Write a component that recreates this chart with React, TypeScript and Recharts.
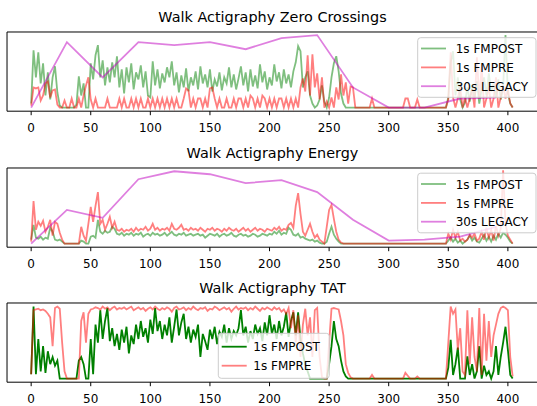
import { Line, LineChart, ReferenceArea, XAxis, YAxis } from "recharts"

const FONT = "DejaVu Sans, Verdana, sans-serif"

// x positions (seconds) — 1 s series sampled every 2 s, legacy every 30 s
const seconds = Array.from({ length: 203 }, (_, i) => i * 2)
const legacySeconds = [0, 30, 60, 90, 120, 150, 180, 210, 240, 270, 300, 330, 360, 390]
const xTicks = [0, 50, 100, 150, 200, 250, 300, 350, 400]

const titles = [
  "Walk Actigraphy Zero Crossings",
  "Walk Actigraphy Energy",
  "Walk Actigraphy TAT",
]

// zero crossings
const zcPost = [
  4, 57, 30, 55, 24, 44, 12, 35, 8, 30,
  41, 15, 2, 0, 0, 0, 0, 0, 0, 3,
  31, 12, 24, 0, 0, 44, 28, 52, 62, 30,
  47, 22, 40, 25, 45, 30, 51, 20, 38, 14,
  40, 25, 44, 18, 35, 28, 42, 20, 36, 12,
  10, 46, 22, 38, 19, 34, 25, 40, 30, 46,
  22, 35, 15, 32, 20, 39, 16, 30, 22, 36,
  18, 41, 24, 33, 20, 38, 16, 28, 21, 35,
  17, 30, 24, 40, 20, 33, 18, 29, 41, 22,
  35, 16, 38, 21, 32, 19, 43, 25, 36, 18,
  30, 22, 43, 26, 35, 19, 38, 24, 33, 20,
  36, 45, 61, 56, 20, 30, 36, 12, 4, 0,
  2, 8, 22, 6, 0, 10, 30, 44, 51, 36,
  14, 4, 0, 0, 0, 0, 0, 0, 0, 0,
  0, 0, 0, 0, 0, 0, 0, 0, 0, 0,
  0, 0, 0, 0, 0, 0, 0, 0, 0, 0,
  0, 0, 0, 0, 0, 0, 0, 0, 0, 0,
  0, 0, 0, 0, 0, 10, 45, 56, 12, 30,
  8, 0, 5, 20, 6, 22, 10, 26, 4, 18,
  30, 12, 34, 16, 24, 10, 28, 8, 20, 72,
  14, 4, 0,
]
const zcPre = [
  2, 20, 19, 20, 7, 12, 24, 26, 10, 17,
  18, 3, 0, 0, 7, 0, 0, 9, 0, 0,
  9, 0, 12, 22, 30, 8, 0, 9, 0, 0,
  0, 0, 9, 0, 0, 0, 0, 9, 0, 9,
  0, 0, 9, 0, 9, 0, 9, 0, 0, 9,
  0, 9, 0, 9, 0, 9, 0, 9, 0, 9,
  0, 9, 0, 0, 9, 19, 17, 0, 9, 0,
  9, 9, 0, 9, 0, 19, 20, 9, 0, 9,
  0, 0, 9, 0, 0, 9, 0, 9, 9, 0,
  9, 0, 12, 9, 0, 9, 0, 12, 9, 0,
  9, 0, 9, 0, 9, 9, 0, 9, 0, 9,
  0, 9, 0, 20, 29, 16, 52, 12, 53, 20,
  34, 8, 30, 0, 6, 0, 10, 0, 20, 8,
  33, 12, 25, 4, 21, 20, 0, 0, 0, 0,
  0, 0, 0, 9, 0, 0, 0, 0, 0, 0,
  0, 0, 0, 0, 0, 0, 0, 9, 9, 0,
  0, 0, 8, 0, 0, 0, 0, 0, 0, 0,
  0, 0, 0, 0, 0, 8, 55, 10, 0, 9,
  20, 0, 10, 0, 9, 18, 0, 50, 9, 40,
  0, 9, 20, 0, 9, 30, 0, 10, 22, 9,
  18, 4, 0,
]
const zcLegacy = [0, 65, 30, 65, 62, 65, 58, 69, 72, 20, 0, 0, 9, 10]

// energy
const enPost = [
  4, 19, 6, 5, 7, 4, 6, 5, 16, 12,
  4, 3, 4, 2, 0, 0, 0, 0, 0, 0,
  0, 3, 2, 0, 0, 7, 8, 6, 24, 12,
  10, 13, 11, 12, 17, 15, 10, 9, 11, 8,
  10, 9, 11, 8, 10, 9, 11, 7, 9, 10,
  8, 11, 9, 10, 8, 9, 11, 8, 10, 12,
  9, 8, 10, 9, 11, 8, 9, 10, 8, 9,
  10, 8, 9, 6, 8, 10, 9, 8, 10, 7,
  9, 10, 8, 9, 11, 8, 7, 9, 10, 8,
  9, 7, 8, 10, 9, 7, 8, 10, 9, 8,
  10, 9, 12, 10, 13, 9, 11, 10, 16, 14,
  9, 8, 10, 6, 7, 5, 4, 3, 4, 2,
  3, 1, 0, 0, 2, 10, 17, 9, 5, 2,
  0, 0, 0, 0, 0, 0, 0, 0, 0, 0,
  0, 0, 0, 0, 0, 0, 0, 0, 0, 0,
  0, 0, 0, 0, 0, 0, 0, 0, 0, 0,
  0, 0, 0, 0, 0, 0, 0, 0, 0, 0,
  0, 0, 0, 0, 0, 3, 6, 2, 5, 1,
  3, 0, 2, 4, 8, 3, 6, 2, 1, 5,
  9, 3, 7, 2, 8, 4, 10, 6, 11, 9,
  6, 2, 0,
]
const enPre = [
  2, 43, 14, 22, 18, 23, 12, 17, 24, 8,
  22, 20, 11, 4, 0, 0, 0, 0, 0, 0,
  0, 17, 8, 3, 20, 37, 22, 38, 52, 20,
  24, 14, 20, 27, 16, 22, 14, 13, 15, 12,
  14, 13, 15, 12, 16, 13, 15, 14, 17, 13,
  15, 20, 14, 16, 13, 15, 14, 16, 13, 20,
  15, 14, 16, 19, 14, 15, 13, 16, 14, 15,
  13, 16, 14, 12, 15, 14, 16, 13, 15, 14,
  12, 15, 13, 16, 14, 13, 15, 12, 14, 16,
  13, 15, 12, 14, 16, 13, 15, 14, 12, 15,
  14, 13, 16, 14, 17, 13, 15, 14, 19, 21,
  16, 38, 51, 30, 12, 8, 14, 20, 12, 6,
  9, 4, 2, 0, 17, 34, 39, 25, 12, 4,
  1, 0, 0, 0, 0, 0, 0, 0, 0, 0,
  0, 0, 0, 0, 0, 0, 0, 0, 0, 0,
  0, 0, 0, 0, 0, 0, 0, 0, 0, 0,
  0, 0, 0, 0, 0, 0, 0, 0, 0, 0,
  0, 0, 0, 0, 0, 10, 4, 14, 6, 12,
  3, 5, 2, 4, 9, 6, 10, 3, 5, 12,
  4, 16, 6, 14, 3, 18, 8, 15, 74, 20,
  8, 4, 0,
]
const enLegacy = [0, 34, 26, 65, 73, 70, 61, 64, 52, 24, 3, 4, 7, 17]

// time above threshold
const tatPost = [
  0.06, 1.0, 0.06, 0.55, 0.1, 0.45, 0.08, 0.38, 0.2, 0.3,
  0.18, 0.25, 0, 0, 0, 0, 0, 0, 0, 0,
  0.25, 0.3, 0.2, 0, 0, 0.55, 0.06, 0.75, 0.5, 0.95,
  0.55, 0.8, 0.98, 0.52, 0.7, 0.45, 0.62, 0.4, 0.68, 0.5,
  0.72, 0.35, 0.6, 0.48, 0.75, 0.55, 0.8, 0.58, 0.7, 0.5,
  0.82, 0.62, 0.98, 0.66, 0.8, 0.55, 0.75, 0.6, 0.85, 0.5,
  0.72, 0.96, 0.6, 0.78, 0.9, 0.55, 0.72, 0.5, 0.68, 0.58,
  0.75, 0.3, 0.62, 0.52, 0.4, 0.68, 0.55, 0.72, 0.48, 0.65,
  0.58, 0.75, 0.5, 0.7, 0.55, 0.66, 0.6, 0.7, 0.95, 0.6,
  0.72, 0.5, 0.66, 0.55, 0.75, 0.62, 0.7, 0.52, 0.78, 0.6,
  0.88, 0.62, 0.75, 0.55, 0.8, 0.6, 0.72, 0.92, 0.58, 0.8,
  0.92, 0.6, 0.92, 0.55, 0.35, 0.2, 0.1, 0, 0, 0,
  0, 0, 0, 0, 0, 0.2, 0.45, 0.8, 0.55, 0.45,
  0.25, 0.1, 0.03, 0, 0, 0, 0, 0, 0, 0,
  0, 0, 0, 0, 0, 0, 0, 0, 0, 0,
  0, 0, 0, 0, 0, 0, 0, 0, 0, 0,
  0, 0, 0, 0, 0, 0, 0, 0, 0, 0,
  0, 0, 0, 0, 0, 0.15, 0.54, 0.05, 0.2, 0.43,
  0, 0, 0, 0.31, 0.05, 0.2, 0, 0.1, 0.45, 0,
  0.18, 0.05, 0.1, 0, 0.1, 0.45, 0.05, 0.3, 0.5, 0.72,
  0.4, 0.05, 0,
]
const tatPre = [
  0.06, 0.95, 0.96, 0.97, 0.95, 0.96, 0.94, 0.9, 0.85, 0.45,
  0.98, 1.0, 0.97, 0.5, 0.1, 0, 0, 0, 0, 0,
  0, 0.8, 0.92, 0.5, 0.9, 0.96, 0.97, 0.99, 0.98, 0.96,
  1.0, 0.97, 0.99, 0.95, 0.98, 1.0, 0.96, 0.98, 0.97, 0.99,
  0.96, 0.98, 1.0, 0.95, 0.97, 0.99, 0.96, 0.98, 0.94, 0.97,
  0.99, 0.96, 1.0, 0.97, 0.95, 0.98, 0.96, 0.99, 0.97, 0.93,
  0.98, 1.0, 0.96, 0.97, 0.99, 0.95, 0.98, 0.96, 1.0, 0.97,
  0.95, 0.98, 0.97, 0.99, 0.94, 0.97, 0.96, 1.0, 0.98, 0.95,
  0.97, 0.99, 0.96, 0.98, 0.93, 0.97, 1.0, 0.96, 0.98, 0.97,
  0.99, 0.95, 0.98, 0.96, 1.0, 0.97, 0.94, 0.98, 0.96, 0.99,
  0.97, 0.95, 0.99, 0.96, 0.98, 0.93, 0.96, 0.9, 0.98, 0.7,
  0.95, 0.5, 0.88, 0.3, 0.75, 0.97, 0.6, 0.85, 0.3, 0.95,
  0.98, 0.3, 0.02, 0, 0, 0.5, 0.97, 0.98, 0.97, 0.96,
  0.8, 0.6, 0.2, 0.08, 0.02, 0, 0, 0, 0, 0,
  0, 0, 0, 0.05, 0, 0, 0, 0, 0, 0,
  0, 0, 0, 0, 0, 0, 0, 0.08, 0.04, 0,
  0, 0, 0.03, 0, 0, 0, 0, 0, 0, 0,
  0, 0, 0, 0, 0, 0.5, 1.0, 0.9, 0.96, 0.4,
  0.7, 0.1, 0.05, 0.95, 0.2, 0.85, 0.3, 0.1, 0.98, 0.05,
  0.9, 0.25, 0.8, 0.3, 0.6, 0.75, 0.9, 0.98, 1.0, 0.98,
  0.95, 0.3, 0.03,
]

const GREEN = "#008000"
const RED = "#ff0000"
const MAGENTA = "#bf00bf"

const PLOT_LEFT = 7
const PLOT_H = 79.2
const CHART_W = 540
const TOP_PAD = 40
const AXIS_H = 30
const X_DOMAIN: [number, number] = [-20.25, 425.25]
const PLOT_TOPS = [32.3, 167.8, 303.3]

type Series = { label: string; color: string; opacity: number }

function Panel({
  top,
  yDomain,
  post,
  pre,
  legacy,
  postOpacity,
}: {
  top: number
  yDomain: [number, number]
  post: number[]
  pre: number[]
  legacy?: number[]
  postOpacity: number
}) {
  const rows = seconds.map((t, i) => ({ t, post: post[i], pre: pre[i] }))
  const legacyRows = legacy ? legacySeconds.map((t, i) => ({ t, v: legacy[i] })) : []
  const h = TOP_PAD + PLOT_H + AXIS_H
  return (
    <div
      style={{
        position: "absolute",
        left: 0,
        top: top - TOP_PAD,
        width: 537,
        height: h,
        overflow: "hidden",
      }}
    >
      <LineChart
        width={CHART_W}
        height={h}
        data={rows}
        margin={{ top: TOP_PAD, right: 2, bottom: 0, left: PLOT_LEFT }}
      >
        <XAxis
          dataKey="t"
          type="number"
          domain={X_DOMAIN}
          ticks={xTicks}
          allowDataOverflow
          axisLine={false}
          tickLine={{ stroke: "#000", strokeWidth: 1 }}
          tickSize={4}
          tickMargin={8.7}
          height={AXIS_H}
          tick={{ fontSize: 12, fill: "#000", fontFamily: FONT }}
          interval={0}
        />
        <YAxis hide domain={yDomain} allowDataOverflow type="number" />
        <Line
          dataKey="post"
          stroke={GREEN}
          strokeOpacity={postOpacity}
          strokeWidth={1.8}
          dot={false}
          isAnimationActive={false}
        />
        <Line
          dataKey="pre"
          stroke={RED}
          strokeOpacity={0.5}
          strokeWidth={1.8}
          dot={false}
          isAnimationActive={false}
        />
        {legacy && (
          <Line
            data={legacyRows}
            dataKey="v"
            stroke={MAGENTA}
            strokeOpacity={0.5}
            strokeWidth={1.8}
            dot={false}
            isAnimationActive={false}
          />
        )}
        <ReferenceArea
          x1={X_DOMAIN[0]}
          x2={X_DOMAIN[1]}
          y1={yDomain[0]}
          y2={yDomain[1]}
          fill="none"
          stroke="#000"
          strokeWidth={1}
          ifOverflow="visible"
        />
      </LineChart>
    </div>
  )
}

function LegendBox({
  x,
  y,
  w,
  h,
  items,
  lineX,
  textX,
  rowY,
}: {
  x: number
  y: number
  w: number
  h: number
  items: Series[]
  lineX: number
  textX: number
  rowY: number[]
}) {
  return (
    <g>
      <rect x={x} y={y} width={w} height={h} rx={3} fill="#fff" fillOpacity={0.8} stroke="#ccc" strokeWidth={1} />
      {items.map((s, i) => (
        <g key={s.label}>
          <line x1={lineX} x2={lineX + 25} y1={rowY[i]} y2={rowY[i]} stroke={s.color} strokeOpacity={s.opacity} strokeWidth={1.8} />
          <text x={textX} y={rowY[i] + 4.6} fontSize={12} fontFamily={FONT} fill="#000">
            {s.label}
          </text>
        </g>
      ))}
    </g>
  )
}

export default function App() {
  const threeSeries: Series[] = [
    { label: "1s FMPOST", color: GREEN, opacity: 0.5 },
    { label: "1s FMPRE", color: RED, opacity: 0.5 },
    { label: "30s LEGACY", color: MAGENTA, opacity: 0.5 },
  ]
  const tatSeries: Series[] = [
    { label: "1s FMPOST", color: GREEN, opacity: 1 },
    { label: "1s FMPRE", color: RED, opacity: 0.5 },
  ]
  return (
    <div style={{ position: "absolute", left: 0, top: 0, width: 537, height: 406, background: "#fff", overflow: "hidden" }}>
      <Panel top={PLOT_TOPS[0]} yDomain={[-3.6, 75.1]} post={zcPost} pre={zcPre} legacy={zcLegacy} postOpacity={0.5} />
      <Panel top={PLOT_TOPS[1]} yDomain={[-3.6, 76.3]} post={enPost} pre={enPre} legacy={enLegacy} postOpacity={0.5} />
      <Panel top={PLOT_TOPS[2]} yDomain={[-0.05, 1.05]} post={tatPost} pre={tatPre} postOpacity={1} />
      <svg width={537} height={406} style={{ position: "absolute", left: 0, top: 0, pointerEvents: "none" }}>
        {PLOT_TOPS.map((t, i) => (
          <text key={i} x={272.5} y={t - 10.1} textAnchor="middle" fontSize={14.4} fontFamily={FONT} fill="#000">
            {titles[i]}
          </text>
        ))}
        {[0, 1].map((i) => (
          <LegendBox
            key={i}
            x={417.7}
            y={PLOT_TOPS[i] + 5.4}
            w={118.3}
            h={59.6}
            items={threeSeries}
            lineX={421}
            textX={455.7}
            rowY={[PLOT_TOPS[i] + 16.2, PLOT_TOPS[i] + 35.1, PLOT_TOPS[i] + 53.9]}
          />
        ))}
        <LegendBox
          x={218.3}
          y={PLOT_TOPS[2] + 30}
          w={111}
          h={45}
          items={tatSeries}
          lineX={221.7}
          textX={253.3}
          rowY={[PLOT_TOPS[2] + 43.4, PLOT_TOPS[2] + 62.4]}
        />
      </svg>
    </div>
  )
}
